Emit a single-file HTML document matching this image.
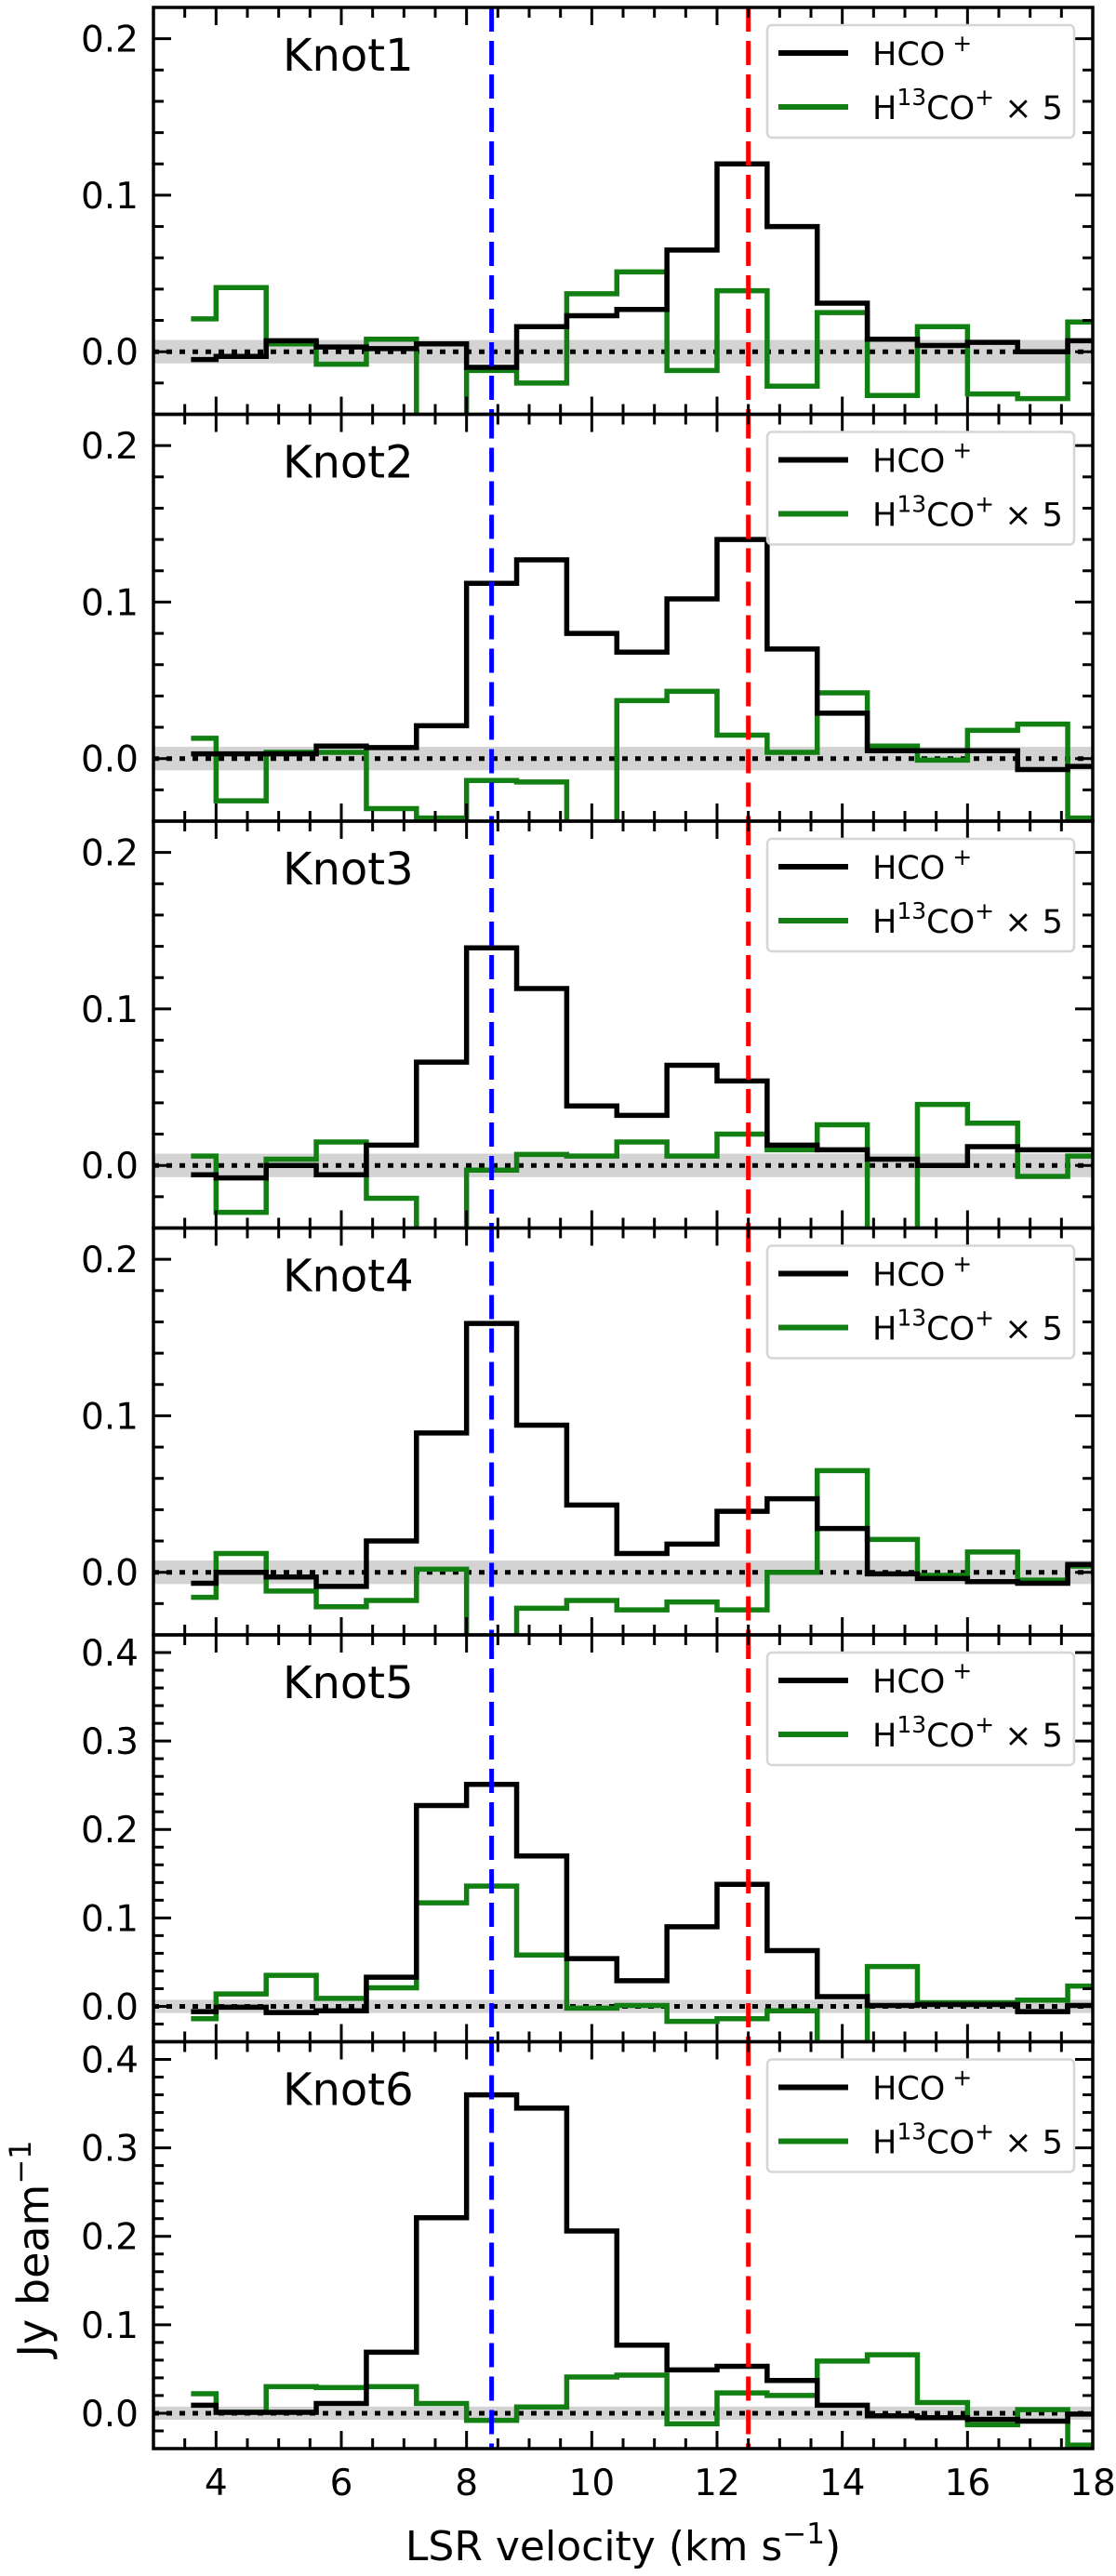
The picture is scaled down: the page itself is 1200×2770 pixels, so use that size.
<!DOCTYPE html>
<html><head><meta charset="utf-8"><style>
html,body{margin:0;padding:0;background:#fff;}
svg{display:block;font-family:"DejaVu Sans","Liberation Sans",sans-serif;}
</style></head><body>
<svg id="fig" width="1200" height="2770" viewBox="0 0 1200 2770" xmlns="http://www.w3.org/2000/svg"></svg>
<script>
const channelStart = 3.6;
const channelWidth = 0.8;
const knotNames = ["Knot1","Knot2","Knot3","Knot4","Knot5","Knot6"];
const hcoKnot1 = [-0.005,-0.003,0.007,0.003,0.002,0.005,-0.01,0.016,0.023,0.027,0.065,0.12,0.08,0.031,0.008,0.004,0.006,0.0,0.007];
const h13Knot1 = [0.021,0.041,0.005,-0.008,0.008,-0.06,-0.012,-0.02,0.037,0.051,-0.012,0.039,-0.022,0.025,-0.028,0.016,-0.027,-0.03,0.019];
const hcoKnot2 = [0.003,0.003,0.003,0.008,0.007,0.021,0.112,0.127,0.080,0.068,0.102,0.140,0.070,0.029,0.005,0.005,0.005,-0.007,-0.005];
const h13Knot2 = [0.013,-0.027,0.004,0.004,-0.032,-0.038,-0.014,-0.015,-0.06,0.037,0.043,0.015,0.004,0.042,0.008,-0.001,0.018,0.022,-0.038];
const hcoKnot3 = [-0.006,-0.008,0.0,-0.006,0.013,0.066,0.139,0.113,0.038,0.032,0.064,0.054,0.013,0.010,0.004,0.0,0.012,0.010,0.010];
const h13Knot3 = [0.006,-0.030,0.004,0.015,-0.021,-0.06,-0.003,0.007,0.006,0.015,0.006,0.020,0.010,0.026,-0.06,0.039,0.027,-0.007,0.006];
const hcoKnot4 = [-0.007,0.0,-0.003,-0.009,0.020,0.089,0.159,0.094,0.043,0.012,0.018,0.039,0.047,0.028,-0.001,-0.004,-0.006,-0.007,0.005];
const h13Knot4 = [-0.016,0.012,-0.012,-0.022,-0.018,0.002,-0.06,-0.023,-0.018,-0.024,-0.019,-0.024,0.0,0.065,0.021,-0.002,0.013,-0.005,0.004];
const hcoKnot5 = [-0.006,-0.001,-0.007,-0.005,0.033,0.227,0.251,0.170,0.054,0.029,0.090,0.138,0.063,0.011,0.001,0.002,0.002,-0.006,0.001];
const h13Knot5 = [-0.014,0.014,0.035,0.009,0.021,0.117,0.136,0.058,-0.002,0.001,-0.017,-0.014,-0.005,-0.06,0.045,0.004,0.004,0.007,0.023];
const hcoKnot6 = [0.009,0.001,0.001,0.011,0.069,0.221,0.360,0.345,0.206,0.077,0.049,0.053,0.037,0.009,-0.003,-0.005,-0.007,-0.009,-0.001];
const h13Knot6 = [0.022,0.001,0.030,0.029,0.030,0.011,-0.008,0.007,0.041,0.043,-0.012,0.023,0.020,0.059,0.066,0.012,-0.013,0.004,-0.036];
const yMaxes = [0.22,0.22,0.22,0.22,0.42,0.42];
const yMajorTicks = [[0,0.1,0.2],[0,0.1,0.2],[0,0.1,0.2],[0,0.1,0.2],[0,0.1,0.2,0.3,0.4],[0,0.1,0.2,0.3,0.4]];
const xTickLabels = [4,6,8,10,12,14,16,18];
const blueVelocity = 8.4;
const redVelocity = 12.5;
const noiseLevel = 0.0075;

const hcoAll=[hcoKnot1,hcoKnot2,hcoKnot3,hcoKnot4,hcoKnot5,hcoKnot6];
const h13All=[h13Knot1,h13Knot2,h13Knot3,h13Knot4,h13Knot5,h13Knot6];
const NS="http://www.w3.org/2000/svg";
const svg=document.getElementById('fig');
const L=165,R=1175,TOP=8,PH=437.5,YMIN=-0.04;
const X=v=>L+(v-3)*(R-L)/15;
function mk(tag,attrs,parent){const e=document.createElementNS(NS,tag);for(const k in attrs)e.setAttribute(k,attrs[k]);(parent||svg).appendChild(e);return e;}
const defs=mk('defs',{});
for(let p=0;p<6;p++){
  const top=TOP+p*PH,bot=top+PH,ymax=yMaxes[p];
  const Y=v=>bot-(v-YMIN)*PH/(ymax-YMIN);
  const g=mk('g',{});
  
  
  const cp=mk('clipPath',{id:'c'+p},defs);mk('rect',{x:L,y:top,width:R-L,height:PH},cp);
  const band=mk('rect',{x:L,y:Y(noiseLevel),width:R-L,height:Y(-noiseLevel)-Y(noiseLevel),fill:'#d3d3d3'},g);
  
  
  const zl=mk('line',{x1:L,x2:R,y1:Y(0),y2:Y(0),stroke:'#000','stroke-width':5,'stroke-dasharray':'6,8'},g);
  
  
  const cg=mk('g',{'clip-path':'url(#c'+p+')'},g);
  function step(arr,color,name){
    const c=i=>channelStart+i*channelWidth;
    let d='M'+X(c(0))+' '+Y(arr[0]);
    for(let i=1;i<arr.length;i++){const m=X(c(i)-channelWidth/2);d+=' H'+m+' V'+Y(arr[i]);}
    d+=' H'+X(c(arr.length-1));
    const pth=mk('path',{d:d,fill:'none',stroke:color,'stroke-width':5.5},cg);
    
    
  }
  step(h13All[p],'#117f11','h13co-spectrum');
  step(hcoAll[p],'#000','hco-spectrum');
  const bl=mk('line',{x1:X(blueVelocity),x2:X(blueVelocity),y1:top,y2:bot,stroke:'#0000ff','stroke-width':5,'stroke-dasharray':'26,10'},g);
  
  
  const rl=mk('line',{x1:X(redVelocity),x2:X(redVelocity),y1:top,y2:bot,stroke:'#ff0000','stroke-width':5,'stroke-dasharray':'26,10'},g);
  
  
  for(let v=3;v<=18.001;v+=0.5){
    const maj=Math.abs(v-Math.round(v/2)*2)<1e-6,len=maj?19:11,x=X(v);
    mk('line',{x1:x,x2:x,y1:bot,y2:bot-len,stroke:'#000','stroke-width':3},g);
    mk('line',{x1:x,x2:x,y1:top,y2:top+len,stroke:'#000','stroke-width':3},g);
  }
  for(let k=-2;k*0.02<=ymax+1e-9;k++){
    const v=k*0.02,maj=(k%5===0),len=maj?19:11,y=Y(v);
    mk('line',{x1:L,x2:L+len,y1:y,y2:y,stroke:'#000','stroke-width':3},g);
    mk('line',{x1:R,x2:R-len,y1:y,y2:y,stroke:'#000','stroke-width':3},g);
  }
  yMajorTicks[p].forEach(v=>{
    const t=mk('text',{x:L-16,y:Y(v)+14,'font-size':39,'text-anchor':'end'},g);t.textContent=v.toFixed(1);
    
    
  });
  mk('rect',{x:L,y:top,width:R-L,height:PH,fill:'none',stroke:'#000','stroke-width':3.5},g);
  const kl=mk('text',{x:304,y:top+68,'font-size':48},g);kl.textContent=knotNames[p];
  
  
  const lg=mk('g',{},g);
  
  
  mk('rect',{x:825,y:top+19,width:330,height:121,rx:5,fill:'#fff','fill-opacity':0.85,stroke:'#d6d6d6','stroke-width':2.5},lg);
  mk('line',{x1:837,x2:912,y1:top+49,y2:top+49,stroke:'#000','stroke-width':6},lg);
  mk('line',{x1:837,x2:912,y1:top+107,y2:top+107,stroke:'#117f11','stroke-width':6},lg);
  const t1=mk('text',{x:938,y:top+62,'font-size':35},lg);
  t1.innerHTML='HCO<tspan dy="-15" font-size="25"> +</tspan>';
  
  
  const t2=mk('text',{x:938,y:top+120,'font-size':35},lg);
  t2.innerHTML='H<tspan dy="-15" font-size="25">13</tspan><tspan dy="15">CO</tspan><tspan dy="-15" font-size="25">+</tspan><tspan dy="15"> × 5</tspan>';
  
  
}
const bottom=TOP+6*PH;
xTickLabels.forEach(v=>{
  const t=mk('text',{x:X(v),y:bottom+50,'font-size':39,'text-anchor':'middle'});t.textContent=v;
  
  
});
const xl=mk('text',{x:(L+R)/2,y:2753,'font-size':44,'text-anchor':'middle'});
xl.innerHTML='LSR velocity (km s<tspan dy="-18" font-size="31">−1</tspan><tspan dy="18">)</tspan>';


const yl=mk('text',{x:0,y:0,'font-size':46,'text-anchor':'middle',transform:'translate(52,2418) rotate(-90)'});
yl.innerHTML='Jy beam<tspan dy="-19" font-size="32">−1</tspan>';


</script>
</body></html>
